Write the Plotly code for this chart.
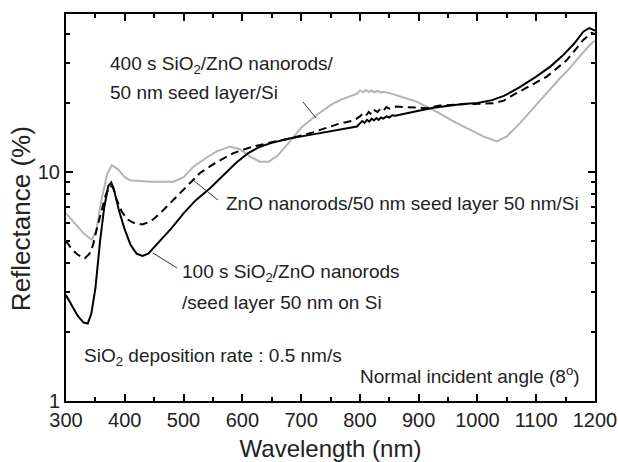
import plotly.graph_objects as go

# ---- data ----
wl_100s = [300, 310, 320, 330, 337, 343, 350, 358, 365, 372, 377, 382, 390, 400, 410, 420, 430, 440,
           460, 480, 500, 520, 545, 570, 590, 610, 630, 650, 680, 720, 760, 795,
           800, 804, 808, 812, 816, 820, 824, 828, 832, 836, 840, 845, 850, 855, 860, 880, 900, 925, 950, 975,
           1000, 1025, 1045, 1070, 1100, 1125, 1146, 1165, 1180, 1190, 1200]
r_100s = [2.9, 2.6, 2.35, 2.2, 2.18, 2.4, 3.1, 5.0, 7.0, 8.7, 9.0, 8.3, 6.8, 5.6, 4.8, 4.4, 4.3, 4.4,
          5.0, 5.7, 6.6, 7.5, 8.5, 9.8, 11.0, 12.1, 12.9, 13.4, 14.0, 14.6, 15.2, 15.8,
          16.3, 16.7, 16.4, 16.9, 16.6, 17.1, 16.8, 17.2, 16.9, 17.3, 17.1, 17.5, 17.3, 17.7, 17.6, 18.0, 18.5, 19.1, 19.5, 19.8,
          20.0, 20.6, 21.5, 23.3, 26.1, 29.0, 32.4, 36.5, 41.0, 42.5, 41.5]

wl_zno = [300, 310, 320, 332, 340, 346, 352, 360, 368, 375, 380, 386, 395, 405, 415, 430, 445,
          460, 477, 500, 528, 555, 585, 613, 650, 681, 720, 766, 790,
          800, 805, 810, 815, 820, 825, 830, 835, 840, 845, 850, 862, 880, 914, 936, 980,
          1027, 1045, 1061, 1090, 1118, 1152, 1180, 1194, 1200]
r_zno = [5.0, 4.6, 4.35, 4.2, 4.4, 4.8, 5.6, 6.8, 8.0, 8.7, 8.6, 7.6, 6.7, 6.2, 6.0, 5.9, 6.1,
         6.6, 7.3, 8.4, 9.9, 11.0, 12.1, 12.8, 13.5, 14.0, 14.9, 16.3, 16.8,
         17.5, 18.0, 17.6, 18.3, 17.8, 18.6, 18.3, 18.9, 18.5, 19.2, 18.9, 19.3, 19.2, 19.0, 19.5, 19.8,
         19.95, 20.5, 21.7, 23.8, 26.1, 30.8, 37.7, 40.5, 40.0]

wl_400s = [300, 315, 330, 344, 352, 360, 370, 378, 388, 400, 409, 443, 483, 500, 517, 540, 556, 579,
           595, 613, 630, 645, 660, 681, 700, 726, 750, 766, 785,
           795, 800, 805, 810, 815, 820, 825, 830, 835, 840, 851, 870, 897, 931, 960, 987, 1010,
           1033, 1050, 1072, 1095, 1118, 1140, 1157, 1175, 1186, 1197, 1200]
r_400s = [6.6, 6.0, 5.4, 5.05, 5.6, 7.5, 9.8, 10.7, 10.3, 9.5, 9.2, 9.07, 9.07, 9.5, 10.55, 11.6, 12.3, 12.9,
          12.6, 11.7, 11.1, 11.1, 11.8, 13.6, 15.6, 17.7, 19.6, 20.6, 21.6,
          22.0, 22.7, 22.3, 22.8, 22.4, 22.7, 22.3, 22.6, 22.2, 22.4, 22.1, 21.3, 20.3, 18.3, 16.6, 15.3, 14.3,
          13.6, 14.3, 16.3, 19.0, 22.1, 25.6, 28.4, 32.4, 34.7, 37.1, 37.3]

x_ticks = [300, 400, 500, 600, 700, 800, 900, 1000, 1100, 1200]
y_ticks = [1, 10]

FONT = "Liberation Sans, Arial, sans-serif"

fig = go.Figure()
fig.add_trace(go.Scatter(x=wl_400s, y=r_400s, mode="lines",
                         line=dict(color="#b4b4b4", width=2), showlegend=False))
fig.add_trace(go.Scatter(x=wl_zno, y=r_zno, mode="lines",
                         line=dict(color="black", width=2, dash="8px,5px"), showlegend=False))
fig.add_trace(go.Scatter(x=wl_100s, y=r_100s, mode="lines",
                         line=dict(color="black", width=2), showlegend=False))

axis_common = dict(showline=True, linecolor="black", linewidth=2, mirror="allticks",
                   ticks="inside", ticklen=7, tickwidth=1.5, tickcolor="black",
                   showgrid=False, zeroline=False, automargin=False,
                   tickfont=dict(family=FONT, size=20, color="#222"))

fig.update_xaxes(range=[300, 1200], tickvals=x_ticks, ticktext=[str(v) for v in x_ticks],
                 minor=dict(ticks="inside", ticklen=4, tickwidth=1.5, tickcolor="black", dtick=50),
                 title=dict(text="Wavelength (nm)", font=dict(family=FONT, size=24, color="#222"),
                            standoff=14),
                 **axis_common)
fig.update_yaxes(type="log", range=[0, 1.69], tickvals=y_ticks, ticktext=["1", "10"],
                 minor=dict(ticks="inside", ticklen=4, tickwidth=1.5, tickcolor="black",
                            tickvals=[2, 3, 4, 5, 6, 7, 8, 9, 20, 30, 40]),
                 **axis_common)

# y-axis title (placed as rotated text to match the reference position)
fig.add_annotation(text="Reflectance (%)", x=-0.085, y=0.47, xref="paper", yref="paper",
                   xanchor="center", yanchor="middle", textangle=-90, showarrow=False,
                   font=dict(family=FONT, size=26, color="#222"))

ann_font = dict(family=FONT, size=19, color="#222")
annotations = [
    ("400 s SiO<sub>2</sub>/ZnO nanorods/", 0.0794, 0.868, "left"),
    ("50 nm seed layer/Si", 0.0794, 0.796, "left"),
    ("ZnO nanorods/50 nm seed layer 50 nm/Si", 0.2987, 0.5116, "left"),
    ("100 s SiO<sub>2</sub>/ZnO nanorods", 0.2155, 0.3307, "left"),
    ("/seed layer 50 nm on Si", 0.2155, 0.2558, "left"),
    ("SiO<sub>2</sub> deposition rate : 0.5 nm/s", 0.0302, 0.1137, "left"),
]
for text, x, y, anchor in annotations:
    fig.add_annotation(text=text, x=x, y=y, xref="paper", yref="paper", xanchor=anchor,
                       yanchor="middle", showarrow=False, font=ann_font)
fig.add_annotation(text="Normal incident angle (8<sup>o</sup>)", x=0.9754, y=0.0672, xref="paper",
                   yref="paper", xanchor="right", yanchor="middle", showarrow=False,
                   font=dict(family=FONT, size=19, color="#222"))

leaders = [(0.448, 0.7726, 0.4726, 0.7313), (0.2401, 0.571, 0.2873, 0.5194),
           (0.1645, 0.3824, 0.2098, 0.3437)]
for x0, y0, x1, y1 in leaders:
    fig.add_shape(type="line", xref="paper", yref="paper", x0=x0, y0=y0, x1=x1, y1=y1,
                  line=dict(color="#333", width=1))

fig.update_layout(width=618, height=462, margin=dict(l=66, r=23, t=14, b=61),
                  plot_bgcolor="white", paper_bgcolor="white")
fig.write_html("out.html")
